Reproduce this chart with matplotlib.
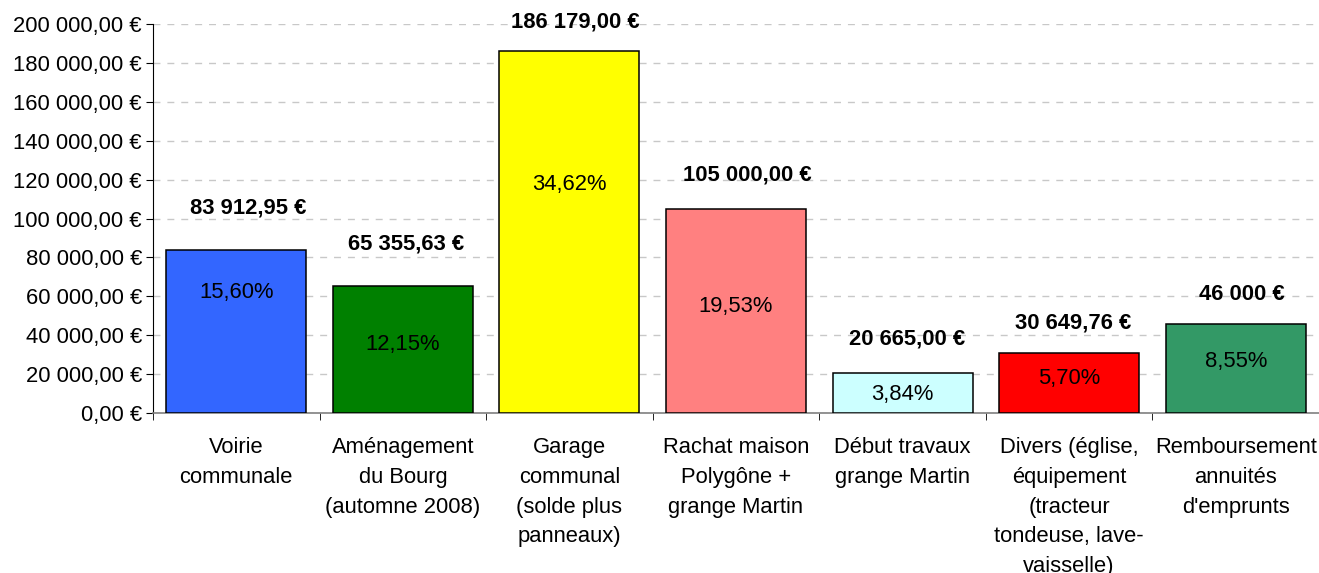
import matplotlib
matplotlib.use("Agg")
import matplotlib.pyplot as plt
import numpy as np

plt.rcParams['font.family'] = ['Liberation Sans', 'DejaVu Sans']

categories = [
    "Voirie\ncommunale",
    "Aménagement\ndu Bourg\n(automne 2008)",
    "Garage\ncommunal\n(solde plus\npanneaux)",
    "Rachat maison\nPolygône +\ngrange Martin",
    "Début travaux\ngrange Martin",
    "Divers (église,\néquipement\n(tracteur\ntondeuse, lave-\nvaisselle)",
    "Remboursement\nannuités\nd'emprunts",
]
amounts = [83912.95, 65355.63, 186179.00, 105000.00, 20665.00, 30649.76, 46000.00]
amount_labels = ["83 912,95 €", "65 355,63 €", "186 179,00 €", "105 000,00 €",
                 "20 665,00 €", "30 649,76 €", "46 000 €"]
pct_labels = ["15,60%", "12,15%", "34,62%", "19,53%", "3,84%", "5,70%", "8,55%"]

colors = ["#3366FF", "#008000", "#FFFF00", "#FF8080", "#CCFFFF", "#FF0000", "#339966"]
# label placement (Excel labels were moved by hand), in points
amount_dx = [8.5, 2.5, 4, 8, 3.5, 3, 4.5]
amount_dy = [30, 30, 21, 24, 24, 22, 21]
pct_frac = [0.74, 0.54, 0.63, 0.52, 0.45, 0.58, 0.58]  # fraction of bar height

fs = 15.8

fig = plt.figure(figsize=(13.19, 5.73), dpi=100)
ax = fig.add_axes([153 / 1319, 1 - 413 / 573, (1319 - 153) / 1319, 389 / 573])

x = np.arange(len(categories))
ax.bar(x, amounts, width=0.84, color=colors, edgecolor="black", linewidth=1.1, zorder=3)

for i, v in enumerate(amounts):
    ax.annotate(amount_labels[i], (x[i], v), xytext=(amount_dx[i], amount_dy[i]),
                textcoords="offset points", ha="center", va="center",
                fontsize=fs, fontweight="bold", zorder=4)
    ax.text(x[i], v * pct_frac[i], pct_labels[i], ha="center", va="center",
            fontsize=fs, zorder=4)

ax.set_xlim(-0.5, len(categories) - 0.5)
ax.set_ylim(0, 200000)
yt = np.arange(0, 200001, 20000)
ax.set_yticks(yt)
ax.set_yticklabels([f"{int(t):,}".replace(",", " ") + ",00 €" for t in yt], fontsize=fs)
ax.yaxis.grid(True, color="#C8C8C8", linestyle=(0, (5, 5)), linewidth=1, zorder=0)

ax.set_xticks(x)
ax.set_xticklabels(categories, fontsize=fs, linespacing=1.56, va="top")
ax.set_xticks(np.arange(-0.5, len(categories)), minor=True)
ax.tick_params(axis="x", which="major", length=0, pad=17)
ax.tick_params(axis="x", which="minor", length=5, color="black", direction="out")
ax.tick_params(axis="y", length=5, color="black", direction="out", pad=3)

for s in ["top", "right"]:
    ax.spines[s].set_visible(False)
ax.spines["left"].set_color("black")
ax.spines["bottom"].set_color("#808080")
ax.spines["bottom"].set_linewidth(1.2)

fig.savefig("out.png", dpi=100)
